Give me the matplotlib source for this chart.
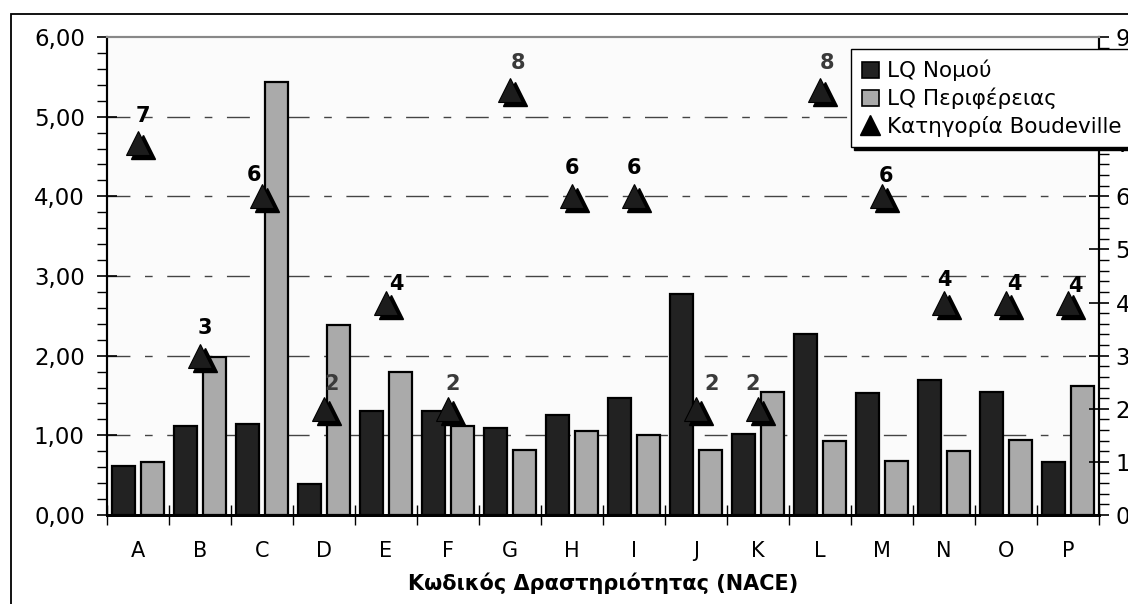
import matplotlib
matplotlib.use("Agg")
import matplotlib.pyplot as plt
from matplotlib.patches import Patch, Rectangle
from matplotlib.lines import Line2D
from matplotlib.ticker import MultipleLocator, FuncFormatter, FixedLocator
from matplotlib.transforms import offset_copy
import numpy as np

plt.rcParams["font.family"] = ["DejaVu Sans"]

CATEGORIES = list("ABCDEFGHIJKLMNOP")
LQ_NOMOU = [0.62, 1.12, 1.14, 0.39, 1.31, 1.31, 1.09, 1.25, 1.47, 2.78,
            1.02, 2.27, 1.53, 1.69, 1.54, 0.66]
LQ_PERIFEREIAS = [0.66, 1.98, 5.44, 2.38, 1.79, 1.12, 0.81, 1.06, 1.00, 0.81,
                  1.55, 0.93, 0.68, 0.80, 0.94, 1.62]
BOUDEVILLE = [7, 3, 6, 2, 4, 2, 8, 6, 6, 2, 2, 8, 6, 4, 4, 4]

# label nudges in pixels (layout only)
LABEL_DX = [5, 5, -8, 8, 10, 5, 8, 0, 0, 16, -5, 7, 4, 0, 8, 7]
LABEL_DY = [27, 28, 21, 25, 19, 25, 27, 28, 28, 25, 25, 27, 20, 23, 19, 17]

DARK = "#222222"
LIGHT = "#aaaaaa"

W, H = 1128, 604
fig = plt.figure(figsize=(W / 100, H / 100), dpi=100)
fig.patch.set_facecolor("white")

# outer chart frame (cropped on right/bottom)
fig.add_artist(Rectangle((11 / W, -0.1), 1.2, 1 - 14 / H + 0.1, transform=fig.transFigure,
                         fill=False, edgecolor="black", linewidth=1.3))

ax = fig.add_axes([107 / W, 1 - 515 / H, (1099 - 107) / W, (515 - 37) / H])
ax.set_facecolor("#fbfbfb")
ax2 = ax.twinx()

x = np.arange(len(CATEGORIES))
bw = 0.37
ax.bar(x - 0.235, LQ_NOMOU, bw, color=DARK, edgecolor="black", linewidth=1.6, zorder=3)
ax.bar(x + 0.235, LQ_PERIFEREIAS, bw, color=LIGHT, edgecolor="black", linewidth=1.6, zorder=3)

ax.set_xlim(-0.5, len(CATEGORIES) - 0.5)
ax.set_ylim(0, 6)
ax2.set_ylim(0, 9)

# grid (dash-dot like Excel)
for v in range(1, 6):
    ax.axhline(v, color="#444444", linewidth=1.0, dashes=(16.5, 10.5, 5.5, 10.5), zorder=1)

# left axis ticks
ax.yaxis.set_major_locator(MultipleLocator(1))
ax.yaxis.set_minor_locator(MultipleLocator(0.2))
ax.yaxis.set_major_formatter(FuncFormatter(lambda v, p: f"{v:.2f}".replace(".", ",")))
ax.tick_params(axis="y", which="major", direction="inout", length=14, width=1.2,
               labelsize=16.5, pad=9)
ax.tick_params(axis="y", which="minor", direction="out", length=7, width=1.0)

# x axis ticks: labels at centers, ticks at boundaries
ax.set_xticks(x)
ax.set_xticklabels(CATEGORIES)
ax.xaxis.set_minor_locator(FixedLocator(np.arange(-0.5, len(CATEGORIES), 1.0)))
ax.tick_params(axis="x", which="major", length=0, labelsize=15, pad=19)
ax.tick_params(axis="x", which="minor", direction="inout", length=14, width=1.0)

# right axis
ax2.yaxis.set_major_locator(MultipleLocator(1))
ax2.yaxis.set_minor_locator(MultipleLocator(0.2))
ax2.yaxis.set_major_formatter(FuncFormatter(lambda v, p: f"{int(v)}"))
ax2.tick_params(axis="y", which="major", direction="inout", length=14, width=1.2,
                labelsize=16.5, pad=5)
ax2.tick_params(axis="y", which="minor", direction="out", length=7, width=1.0)

for a in (ax, ax2):
    a.spines["top"].set_color("#888888")
    a.spines["top"].set_linewidth(1.5)
    a.spines["left"].set_linewidth(1.5)
    a.spines["right"].set_linewidth(1.5)
    a.spines["bottom"].set_linewidth(2.0)

ax.set_xlabel("Κωδικός Δραστηριότητας (NACE)", fontsize=15, fontweight="bold", labelpad=8)

# Boudeville triangles with shadow
shadow_tr = offset_copy(ax2.transData, fig=fig, x=5, y=-4, units="dots")
ax2.plot(x, BOUDEVILLE, linestyle="none", marker="^", markersize=17,
         color="black", transform=shadow_tr, zorder=4, clip_on=False)
ax2.plot(x, BOUDEVILLE, linestyle="none", marker="^", markersize=17,
         markerfacecolor="#1c1c1c", markeredgecolor="black", markeredgewidth=0.8,
         zorder=5, clip_on=False)

for xi, v, dx, dy in zip(x, BOUDEVILLE, LABEL_DX, LABEL_DY):
    col = "#3a3a3a" if v in (2, 8) else "black"
    ax2.annotate(str(v), (xi, v), xytext=(dx, dy), textcoords="offset pixels",
                 ha="center", va="center", fontsize=15, fontweight="bold",
                 color=col, zorder=6)

handles = [
    Patch(facecolor=DARK, edgecolor="black", linewidth=1.2, label="LQ Νομού"),
    Patch(facecolor=LIGHT, edgecolor="black", linewidth=1.2, label="LQ Περιφέρειας"),
    Line2D([], [], linestyle="none", marker="^", markersize=15, color="black",
           label="Κατηγορία Boudeville"),
]
leg = fig.legend(handles=handles, loc="upper left", bbox_to_anchor=(851 / W, 1 - 49 / H),
                 fontsize=15.5, frameon=True, fancybox=False, edgecolor="black",
                 framealpha=1, shadow={"color": "black", "alpha": 1},
                 handlelength=0.8, handleheight=0.8, handletextpad=0.35,
                 labelspacing=0.3, borderpad=0.5, borderaxespad=0)
leg.get_frame().set_linewidth(1.0)

fig.savefig("out.png", dpi=100)
